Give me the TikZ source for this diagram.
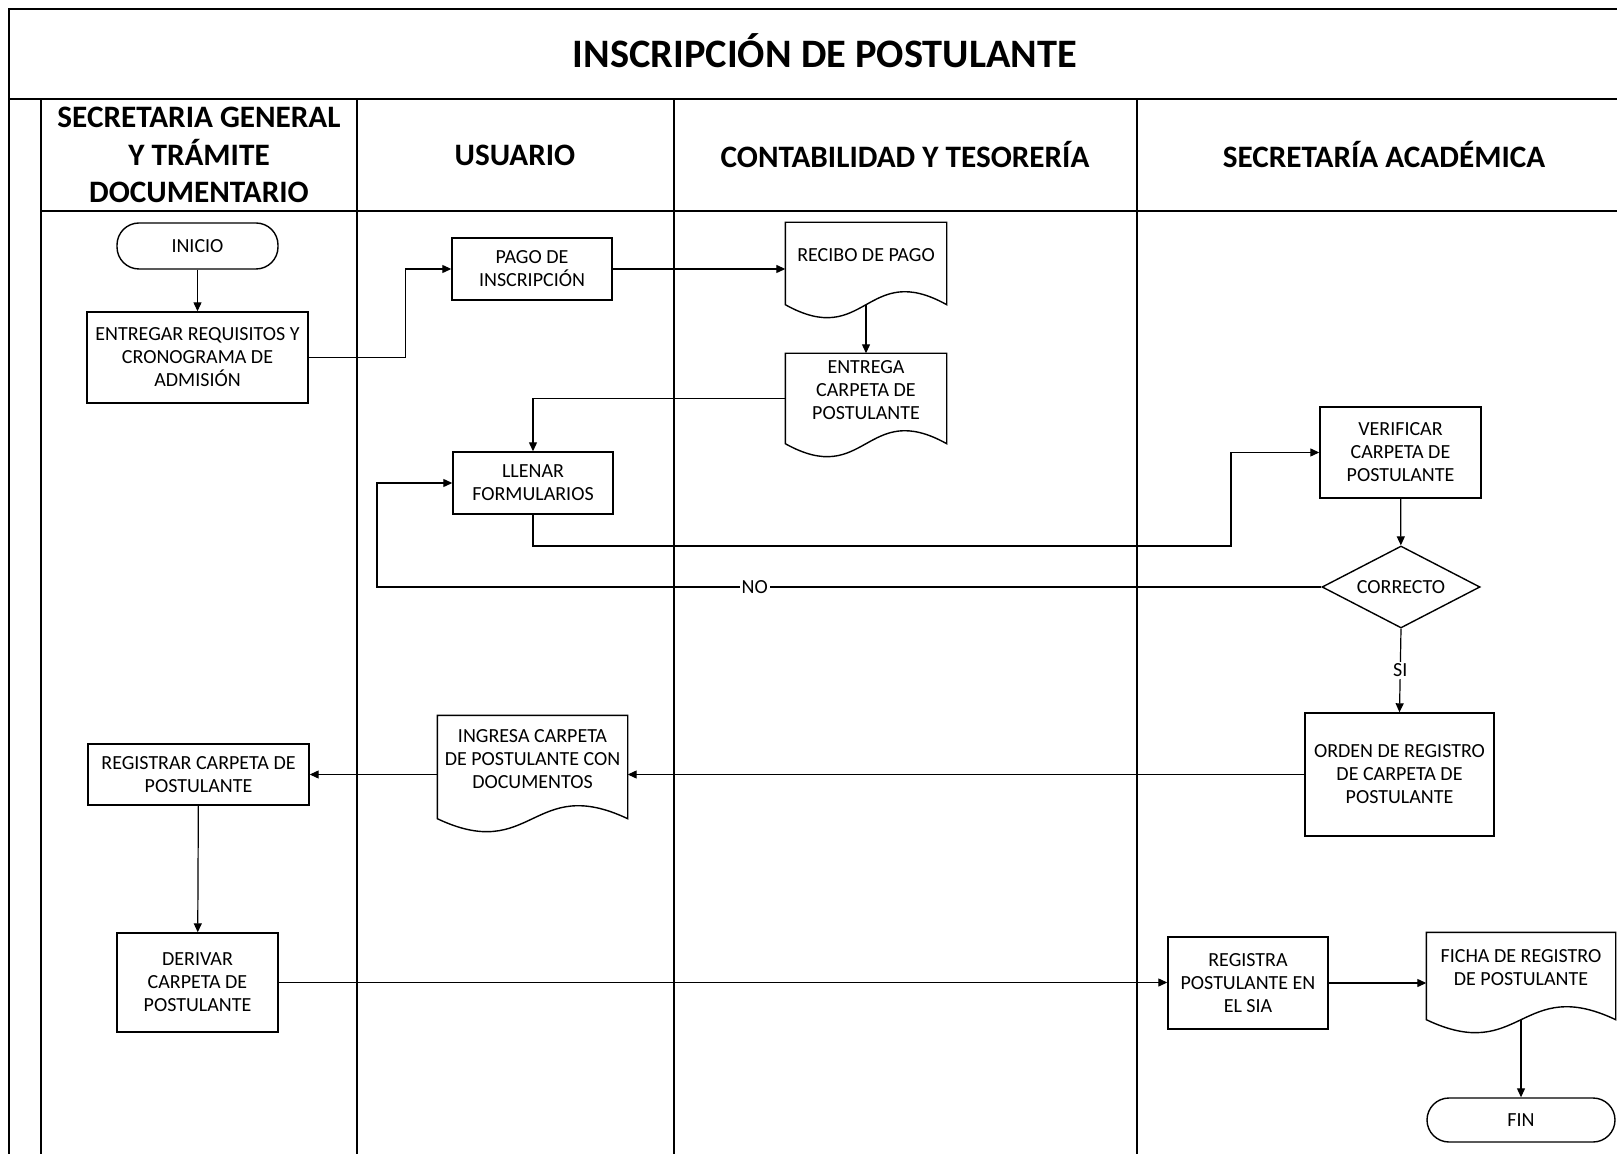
\documentclass[tikz,border=0pt]{standalone}
\usepackage{fontspec}
\setmainfont{Carlito}
\usetikzlibrary{arrows.meta,shapes.geometric,calc}

\tikzset{
  lane/.style={line width=0.9pt},
  box/.style={draw, line width=0.7pt, fill=white, align=center, inner sep=1pt,
    font=\fontsize{10}{11.5}\selectfont},
  term/.style={box, rounded corners=11pt},
  doc/.style={box, draw=none, fill=none, text depth=8pt},
  decision/.style={box, diamond, aspect=2},
  flow/.style={line width=0.6pt, -{Triangle[length=4.5pt,width=4pt]}},
  lbl/.style={fill=white, inner sep=1pt, font=\fontsize{10}{11.5}\selectfont},
  head/.style={align=center, font=\fontsize{15.6}{18.8}\selectfont\bfseries},
}

\begin{document}
\begin{tikzpicture}[x=0.5pt,y=-0.5pt]
            \useasboundingbox (0,0) rectangle (1617,1154);

            % marco y carriles
            \draw[lane] (9,1154) -- (9,9) -- (1617,9);
            \draw[lane] (9,99) -- (1617,99);
            \draw[lane] (41,99) -- (41,1154);
            \draw[lane] (41,211) -- (1617,211);
            \foreach \x in {357,674,1137} {
                \draw[lane] (\x,99) -- (\x,1154);
            }

            % titulos
            \node[font=\fontsize{20.2}{24}\selectfont\bfseries] (titulo) at (825,51) {INSCRIPCIÓN DE POSTULANTE};
            \node[head] (h1) at (199,155) {SECRETARIA GENERAL\\Y TRÁMITE\\DOCUMENTARIO};
            \node[head] (h2) at (515,155) {USUARIO};
            \node[head] (h3) at (905,155) {CONTABILIDAD Y TESORERÍA};
            \node[head] (h4) at (1384,155) {SECRETARÍA ACADÉMICA};

            % pasos
            \node[term, minimum width=80.5pt, minimum height=23pt] (inicio) at (197.5,246) {INICIO};
            \node[box, minimum width=110.5pt, minimum height=45.5pt] (entregar) at (197.5,357.5) {ENTREGAR REQUISITOS Y\\CRONOGRAMA DE\\ADMISIÓN};
            \node[box, minimum width=80pt, minimum height=31pt] (pago) at (532,269) {PAGO DE\\INSCRIPCIÓN};
            \node[doc, minimum width=80pt, minimum height=40.5pt] (recibo) at (866,263.5) {RECIBO DE PAGO};
            \node[doc, minimum width=80pt, minimum height=44.5pt] (entrega) at (866,398.5) {ENTREGA\\CARPETA DE\\POSTULANTE};
            \node[box, minimum width=80pt, minimum height=31pt] (llenar) at (533,483) {LLENAR\\FORMULARIOS};
            \node[box, minimum width=80.5pt, minimum height=45.5pt] (verificar) at (1400.5,452.5) {VERIFICAR\\CARPETA DE\\POSTULANTE};
            \node[decision, minimum width=79pt, minimum height=41pt] (correcto) at (1401,587) {CORRECTO};
            \node[box, minimum width=94.5pt, minimum height=61.5pt] (orden) at (1399.5,774.5) {ORDEN DE REGISTRO\\DE CARPETA DE\\POSTULANTE};
            \node[doc, minimum width=94.5pt, minimum height=51pt] (ingresa) at (532.5,767) {INGRESA CARPETA\\DE POSTULANTE CON\\DOCUMENTOS};
            \node[box, minimum width=110.5pt, minimum height=30.5pt] (registrar) at (198.5,774.5) {REGISTRAR CARPETA DE\\POSTULANTE};
            \node[box, minimum width=80.5pt, minimum height=49.5pt] (derivar) at (197.5,982.5) {DERIVAR\\CARPETA DE\\POSTULANTE};
            \node[box, minimum width=80pt, minimum height=46pt] (registra) at (1248,983) {REGISTRA\\POSTULANTE EN\\EL SIA};
            \node[doc, minimum width=94pt, minimum height=43pt] (ficha) at (1521,976) {FICHA DE REGISTRO\\DE POSTULANTE};
            \node[term, minimum width=94pt, minimum height=22pt] (fin) at (1521,1120) {FIN};

            % documentos con borde ondulado
            \foreach \d in {recibo,entrega,ingresa,ficha} {
                \draw[line width=0.7pt] (\d.south west) -- (\d.north west) -- (\d.north east) -- (\d.south east)
                    .. controls ($(\d.south)+(0,-45)$) and ($(\d.south)+(0,45)$) .. (\d.south west) -- cycle;
            }

            % puntos de quiebre
            \coordinate (c1) at (1231,546);
            \coordinate (c2) at (377,587);

            % flechas
            \draw[flow] (inicio) -- (entregar);
            \draw[flow] (entregar.east) -- ++(97,0) |- (pago.west);
            \draw[flow] (pago.east) -- (pago.east -| recibo.west);
            \draw[flow] (recibo.south) -- (entrega.north);
            \draw[flow] (entrega.west) -| (llenar.north);
            \draw[flow] (llenar.south) |- (c1) |- (verificar.west);
            \draw[flow] (verificar) -- (correcto);
            \draw[flow] (correcto.west) -- node[lbl, pos=0.6] {NO} (c2) |- (llenar.west);
            \draw[flow] (correcto.south) -- node[lbl] {SI} (orden.north);
            \draw[flow] (orden.west) -- (orden.west -| ingresa.east);
            \draw[flow] (orden.west -| ingresa.west) -- (orden.west -| registrar.east);
            \draw[flow] (registrar) -- (derivar);
            \draw[flow] (derivar.east) -- (derivar.east -| registra.west);
            \draw[flow] (registra.east) -- (registra.east -| ficha.west);
            \draw[flow] (ficha.south) -- (fin.north);

\end{tikzpicture}
\end{document}
